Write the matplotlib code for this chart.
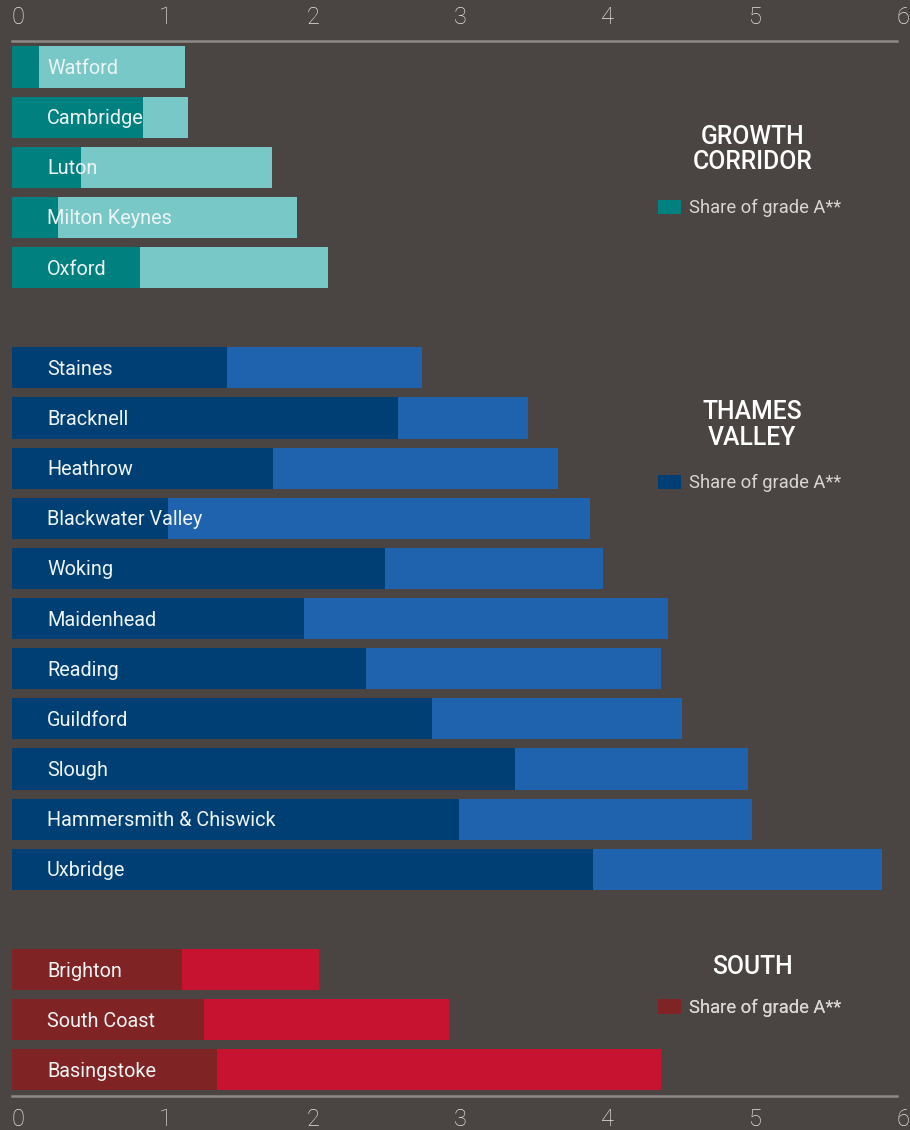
import matplotlib
matplotlib.use("Agg")
import matplotlib.pyplot as plt
import matplotlib.transforms as mtransforms
from matplotlib.patches import Patch

# Data
growth_names = ["Watford", "Cambridge", "Luton", "Milton Keynes", "Oxford"]
growth_share = [0.18, 0.89, 0.47, 0.31, 0.87]
growth_total = [1.17, 1.19, 1.76, 1.93, 2.14]

thames_names = ["Staines", "Bracknell", "Heathrow", "Blackwater Valley", "Woking",
                "Maidenhead", "Reading", "Guildford", "Slough",
                "Hammersmith & Chiswick", "Uxbridge"]
thames_share = [1.46, 2.62, 1.77, 1.06, 2.53, 1.98, 2.40, 2.85, 3.41, 3.03, 3.94]
thames_total = [2.78, 3.50, 3.70, 3.92, 4.01, 4.45, 4.40, 4.54, 4.99, 5.02, 5.90]

south_names = ["Brighton", "South Coast", "Basingstoke"]
south_share = [1.15, 1.30, 1.39]
south_total = [2.08, 2.96, 4.40]

x_ticks = [0, 1, 2, 3, 4, 5, 6]

BG = "#4a4542"
groups = [
    {"title": "GROWTH\nCORRIDOR", "names": growth_names, "share": growth_share,
     "total": growth_total, "dark": "#00807f", "light": "#79c8c8", "start": 0,
     "title_y": 1.65, "legend_y": 2.82},
    {"title": "THAMES\nVALLEY", "names": thames_names, "share": thames_share,
     "total": thames_total, "dark": "#003f73", "light": "#1f62ae", "start": 6,
     "title_y": 1.14, "legend_y": 2.30},
    {"title": "SOUTH", "names": south_names, "share": south_share,
     "total": south_total, "dark": "#7f2325", "light": "#c81330", "start": 18,
     "title_y": -0.06, "legend_y": 0.76},
]

W, H = 910, 1130
fig = plt.figure(figsize=(W / 100, H / 100), dpi=100, facecolor=BG)
ax = fig.add_axes([12 / W, 34 / H, 885 / W, 1055 / H], facecolor=BG)

bar_h = 0.82
for g in groups:
    ys = [g["start"] + i for i in range(len(g["names"]))]
    ax.barh(ys, g["total"], height=bar_h, color=g["light"], linewidth=0)
    ax.barh(ys, g["share"], height=bar_h, color=g["dark"], linewidth=0)
    for y, name in zip(ys, g["names"]):
        ax.text(0.237, y + 0.03, name, color="#eef4f4", fontsize=14.3, va="center",
                ha="left", family="Roboto")

    # group title and legend on the right side
    ax.text(5.02, g["start"] + g["title_y"], g["title"], color="white",
            fontsize=17.8, fontweight="medium", family="Roboto",
            ha="center", va="center", linespacing=1.08)
    leg = ax.legend(handles=[Patch(facecolor=g["dark"], edgecolor="none",
                                   label="Share of grade A**")],
                    loc="center left", frameon=False,
                    handlelength=1.27, handleheight=0.83, handletextpad=0.42,
                    bbox_to_anchor=(4.38, g["start"] + g["legend_y"]),
                    bbox_transform=ax.transData, borderpad=0, borderaxespad=0,
                    prop={"family": "Roboto", "size": 13.2})
    for t in leg.get_texts():
        t.set_color("#d8d6d4")
    ax.add_artist(leg)

ax.set_xlim(0, 6)
ax.set_ylim(20.52, -0.518)
ax.set_yticks([])
ax.set_xticks(x_ticks)
ax.set_xticklabels([str(t) for t in x_ticks])
ax.tick_params(axis="x", length=0, labeltop=True, labelbottom=True,
               labelsize=17, labelcolor="#e6e4e2", pad=9)

# tick labels sit a little to the right of their tick
offset = mtransforms.ScaledTranslation(6 / 100, 0, fig.dpi_scale_trans)
for tick in ax.xaxis.get_major_ticks():
    for lab in (tick.label1, tick.label2):
        lab.set_transform(lab.get_transform() + offset)
        lab.set_fontweight("light")
        lab.set_family("Roboto")

for side in ["left", "right"]:
    ax.spines[side].set_visible(False)
for side in ["top", "bottom"]:
    ax.spines[side].set_color("#8c8986")
    ax.spines[side].set_linewidth(1.8)

fig.savefig("out.png", dpi=100, facecolor=BG)
